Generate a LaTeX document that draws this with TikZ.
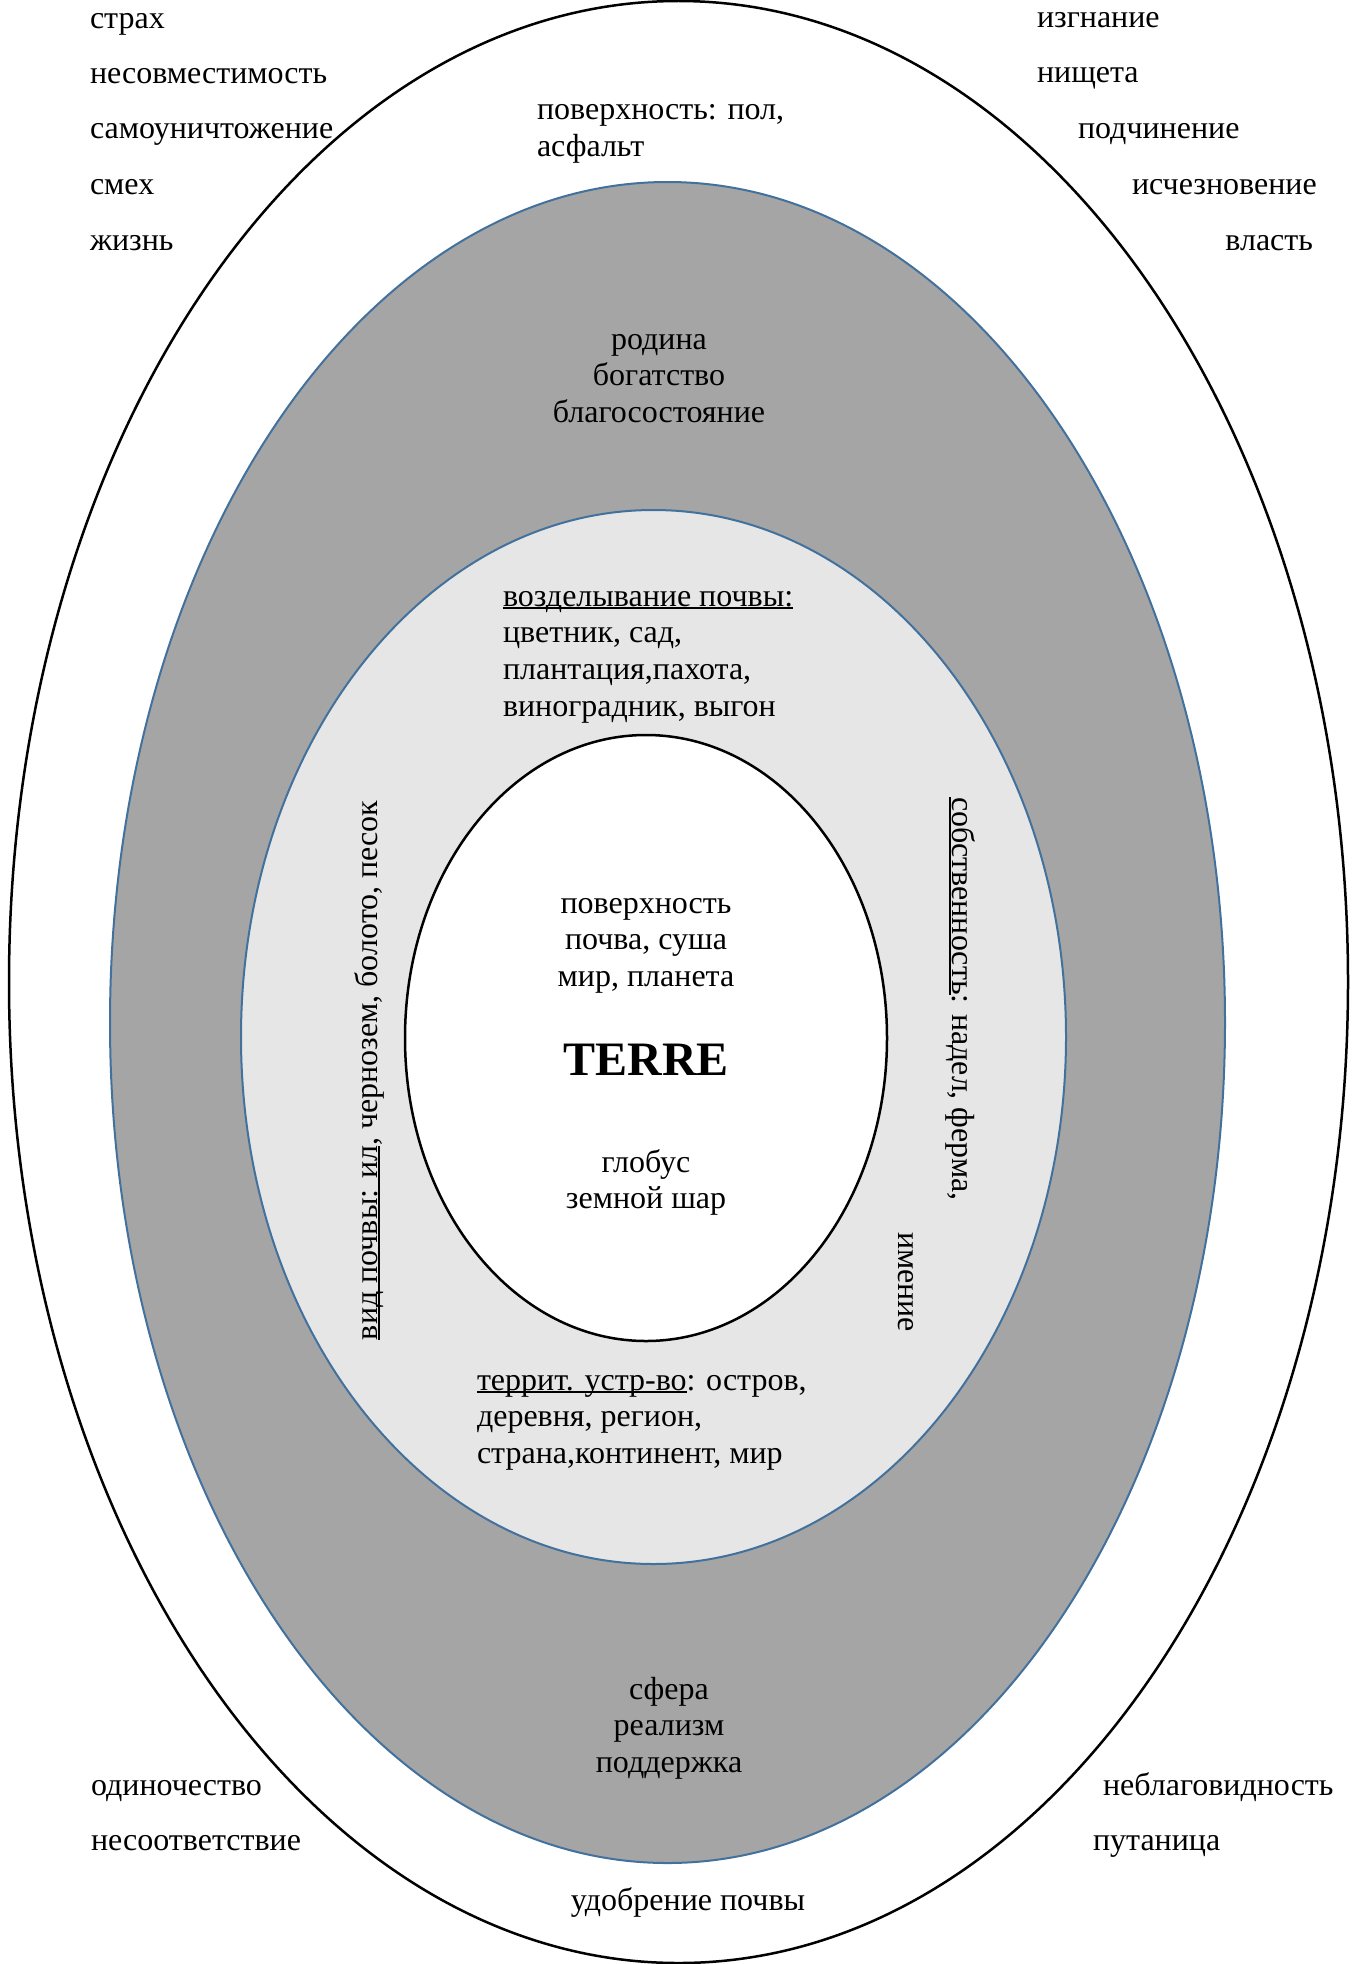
\documentclass[tikz,border=0pt]{standalone}
\usepackage{fontspec}
\setmainfont{Liberation Serif}
\usetikzlibrary{shapes.geometric}
\definecolor{ringdark}{HTML}{A5A5A5}
\definecolor{ringlight}{HTML}{E6E6E6}
\definecolor{ringblue}{HTML}{41719C}
% underline at a fixed depth, crossing descenders
\newcommand\ulin[1]{\setbox0=\hbox{#1}\rlap{\rule[-0.1em]{\wd0}{0.055em}}\box0}
\begin{document}
\begin{tikzpicture}[x=1pt,y=-1pt,
  ring/.style={ellipse, inner sep=0pt, outer sep=0pt},
  blackring/.style={ring, draw=black, line width=2.5pt},
  bluering/.style={ring, draw=ringblue, line width=2pt},
  word/.style={inner sep=0pt, outer sep=0pt, font=\fontsize{32}{36.8}\selectfont},
  title/.style={inner sep=0pt, outer sep=0pt, font=\fontsize{48}{52}\selectfont\bfseries}]
\useasboundingbox (0,0) rectangle (1357,1964);

% nested rings
\node[blackring, fill=white, minimum width=1339pt, minimum height=1962pt] (outer) at (678.5,982) {};
\node[bluering, fill=ringdark, minimum width=1115pt, minimum height=1681pt] (dark) at (667.5,1022.5) {};
\node[bluering, fill=ringlight, minimum width=825pt, minimum height=1054pt] (light) at (653.5,1037) {};
\node[blackring, fill=white, minimum width=482pt, minimum height=606pt] (core) at (646,1038) {};

% outer corners
\node[word, anchor=base west] (l1) at (90,29) {страх};
\node[word, anchor=base west] (l2) at (90,84) {несовместимость};
\node[word, anchor=base west] (l3) at (90,139) {самоуничтожение};
\node[word, anchor=base west] (l4) at (90,195) {смех};
\node[word, anchor=base west] (l5) at (90,250) {жизнь};

\node[word, anchor=base west] (r1) at (1037,28) {изгнание};
\node[word, anchor=base west] (r2) at (1037,83) {нищета};
\node[word, anchor=base west] (r3) at (1078,139) {подчинение};
\node[word, anchor=base west] (r4) at (1132,195) {исчезновение};
\node[word, anchor=base east] (r5) at (1313,250) {власть};

\node[word, anchor=base west] (bl1) at (91,1795) {одиночество};
\node[word, anchor=base west] (bl2) at (91,1850) {несоответствие};
\node[word, anchor=base west] (br1) at (1103,1795) {неблаговидность};
\node[word, anchor=base west] (br2) at (1093,1850) {путаница};

% multi-line nodes are placed by the baseline of their last line
\node[word, align=left, anchor=base west] (surface) at (537,156.8) {поверхность: пол,\\асфальт};
\node[word, anchor=base] (fert) at (688,1910) {удобрение почвы};

% dark ring
\node[word, align=center, anchor=base] (home) at (659,422.6) {родина\\богатство\\благосостояние};
\node[word, align=center, anchor=base] (sphere) at (669,1772.6) {сфера\\реализм\\поддержка};

% light ring
\node[word, align=left, anchor=base west] (tillage) at (503,716.4)
  {\ulin{возделывание почвы:}\\цветник, сад,\\плантация,пахота,\\виноградник, выгон};
\node[word, align=left, anchor=base west] (territory) at (477,1463.6)
  {\ulin{террит. устр-во}: остров,\\деревня, регион,\\страна,континент, мир};
\node[word, rotate=90, anchor=base west] (soil) at (377,1340)
  {\ulin{вид почвы: ил}, чернозем, болото, песок};
\node[word, rotate=-90, anchor=base west] (owner) at (952,797)
  {\ulin{собственность}: надел, ферма,};
\node[word, rotate=-90, anchor=base west] (estate) at (898,1232) {имение};

% core
\node[word, align=center, anchor=base] (meaning) at (646,986.6) {поверхность\\почва, суша\\мир, планета};
\node[title, anchor=base] (terre) at (646,1075) {TERRE};
\node[word, align=center, anchor=base] (globe) at (646,1208.8) {глобус\\земной шар};
\end{tikzpicture}
\end{document}
